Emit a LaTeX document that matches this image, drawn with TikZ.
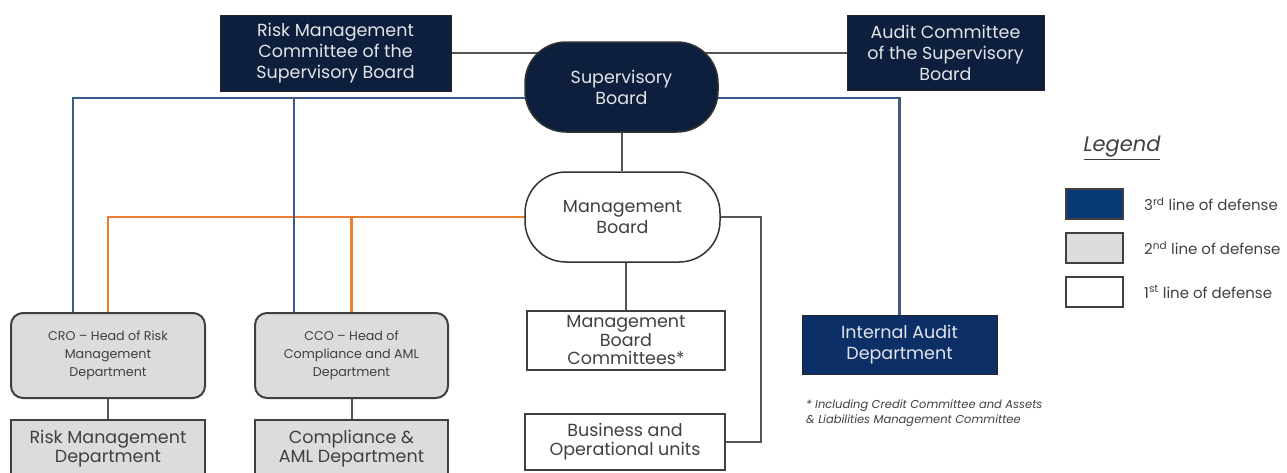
\documentclass[tikz,border=0pt]{standalone}
\usepackage{fontspec}
\setmainfont{Poppins}
\usetikzlibrary{backgrounds}

\definecolor{navy}{HTML}{0E1F3D}
\definecolor{auditblue}{HTML}{0B2F66}
\definecolor{legblue}{HTML}{083A78}
\definecolor{lineblue}{HTML}{3D5A8A}
\definecolor{lineorange}{HTML}{ED7D31}
\definecolor{boxgray}{HTML}{DCDCDC}
\definecolor{textgray}{HTML}{404040}
\definecolor{linegray}{HTML}{555555}

\begin{document}
\begin{tikzpicture}[x=1pt,y=-1pt]
  \tikzstyle{every node} = [align=center, inner sep=0pt]
  \tikzstyle{navybox} = [fill=navy, draw=black!85, line width=1pt, text=white!88!navy, font=\fontsize{17.5}{21}\selectfont]
  \tikzstyle{boardbox} = [draw=black!80, line width=1.5pt, rounded corners=41pt, minimum width=193pt, minimum height=90pt, font=\fontsize{17.5}{21}\selectfont]
  \tikzstyle{headbox} = [fill=boxgray, draw=textgray, line width=2pt, rounded corners=12pt, minimum width=194pt, minimum height=85pt, text=textgray, font=\fontsize{12.7}{18}\selectfont]
  \tikzstyle{deptbox} = [draw=textgray, line width=2pt, text=textgray, font=\fontsize{17.5}{19}\selectfont]
  \tikzstyle{legbox} = [draw=textgray, line width=2pt, minimum width=57pt, minimum height=30pt]
  \tikzstyle{legtext} = [anchor=west, text=textgray, font=\fontsize{15}{17}\selectfont]
  \tikzstyle{grayline} = [draw=linegray, line width=2pt]
  \tikzstyle{blueline} = [draw=lineblue, line width=2.5pt]
  \tikzstyle{orangeline} = [draw=lineorange, line width=2.5pt]

  \useasboundingbox (0,0) rectangle (1287,472);

  \node[navybox, minimum width=231pt, minimum height=76pt] (rmc) at (335.5,53) {Risk Management\\Committee of the\\Supervisory Board};
  \node[boardbox, fill=navy, text=white!88!navy] (sb) at (621.5,87) {Supervisory\\Board};
  \node[navybox, minimum width=197pt, minimum height=75pt] (ac) at (945.5,52.5) {Audit Committee\\of the Supervisory\\Board};
  \node[boardbox, fill=white, text=textgray, minimum width=195pt] (mb) at (622.5,217) {Management\\Board};

  \node[headbox] (cro) at (108,355.5) {CRO -- Head of Risk\\Management\\Department};
  \node[headbox, minimum width=193pt] (cco) at (351.5,355.5) {CCO -- Head of\\Compliance and AML\\Department};
  \node[deptbox, fill=boxgray, minimum width=194pt, minimum height=58pt] (rmd) at (108,449) {Risk Management\\Department};
  \node[deptbox, fill=boxgray, minimum width=193pt, minimum height=58pt] (cmd) at (351.5,449) {Compliance \&\\AML Department};

  \node[deptbox, fill=white, minimum width=198pt, minimum height=59pt, font=\fontsize{17.5}{18.5}\selectfont] (mbc) at (626,340.5) {Management\\Board\\Committees*};
  \node[deptbox, fill=white, minimum width=200pt, minimum height=56pt] (bou) at (625,442) {Business and\\Operational units};
  \node[navybox, fill=auditblue, minimum width=195pt, minimum height=59pt] (ia) at (899.5,344.5) {Internal Audit\\Department};

  \node[anchor=north west, align=left, text=textgray, font=\fontsize{11.5}{15}\itshape] (note) at (806,400) {* Including Credit Committee and Assets\\\& Liabilities Management Committee};

  \node[text=textgray, font=\fontsize{21}{24}\itshape] (legend) at (1122,148) {\underline{Legend}};
  \node[legbox, fill=legblue] (l3) at (1094.5,204) {};
  \node[legbox, fill=boxgray] (l2) at (1094.5,248) {};
  \node[legbox, fill=white] (l1) at (1094.5,292) {};
  \node[legtext] (t3) at ([xshift=20pt]l3.east) {3\textsuperscript{rd} line of defense};
  \node[legtext] (t2) at ([xshift=20pt]l2.east) {2\textsuperscript{nd} line of defense};
  \node[legtext] (t1) at ([xshift=20pt]l1.east) {1\textsuperscript{st} line of defense};

  \begin{scope}[on background layer]
    \coordinate (bus) at ([yshift=-11pt]sb.center);
    \draw[grayline] (rmc.east) -- (rmc.east -| sb.center);
    \draw[grayline] (sb.center |- ac.west) -- (ac.west);
    \draw[grayline] (sb.south) -- (sb.south |- mb.north);
    \draw[grayline] (mbc.north |- mb.south) -- (mbc.north);
    \draw[grayline] (mb.east) -| ([xshift=35pt]bou.east) -- (bou.east);
    \draw[grayline] (cro) -- (rmd);
    \draw[grayline] (cco) -- (cmd);
    \draw[orangeline] (cro.north) |- (mb.center);
    \draw[orangeline] (cco.north) -- (cco.north |- mb.center);
    \draw[blueline] ([xshift=-35pt]cro.north) |- (bus) -| (ia.north);
    \draw[blueline] ([xshift=-57.5pt]bus -| cco.north) -- ([xshift=-57.5pt]cco.north);
  \end{scope}
\end{tikzpicture}
\end{document}
